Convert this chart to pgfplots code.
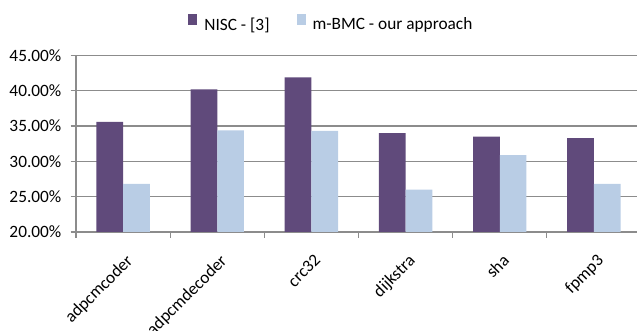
\documentclass[border=0pt]{standalone}
\usepackage{pgfplots}
\pgfplotsset{compat=1.18}
\usepackage{fontspec}
\setmainfont{Carlito}
\definecolor{nisc}{HTML}{604A7B}
\definecolor{mbmc}{HTML}{B9CDE5}
\definecolor{gridc}{HTML}{8C8C8C}
\begin{document}
\begin{tikzpicture}[font=\fontsize{17.3bp}{20bp}\selectfont]
\begin{axis}[
 at={(76bp,99bp)}, anchor=south west, scale only axis,
 width=565bp, height=176.6bp,
 ybar=0pt, bar width=26.7bp,
 xmin=-0.5, xmax=5.5, ymin=20, ymax=45,
 xtick={-0.5,0.5,1.5,2.5,3.5,4.5,5.5}, xticklabels={{},{},{},{},{},{},{}},
 extra x ticks={0,1,2,3,4,5},
 extra x tick labels={adpcmcoder,adpcmdecoder,crc32,dijkstra,sha,fpmp3},
 extra x tick style={major tick length=0pt,
   xticklabel style={xshift=2bp, yshift=-21bp, rotate=45, anchor=north east, inner sep=0pt}},
 ytick={20,25,...,45},
 yticklabel={\pgfmathprintnumber[fixed,fixed zerofill,precision=2]{\tick}\%},
 yticklabel style={inner sep=0pt, xshift=-9bp},
 /pgf/number format/assume math mode=true,
 axis lines*=left,
 axis line style={gridc, line width=1.2bp},
 tick style={gridc, line width=1.2bp},
 major tick length=5.5bp,
 tick align=outside,
 ymajorgrids, grid style={gridc, line width=1.2bp},
 legend style={at={(0.452,1.178)}, anchor=center, draw=none, fill=none,
   legend columns=2, inner sep=0pt,
   /tikz/every odd column/.append style={column sep=5bp},
   /tikz/every even column/.append style={column sep=25bp}},
 legend cell align=left,
 legend image code/.code={\fill[#1] (0bp,-0.5bp) rectangle (9bp,10.5bp);},
]
\addplot[draw=none, fill=nisc] coordinates {(0,35.6) (1,40.2) (2,41.9) (3,34.0) (4,33.5) (5,33.3)};
\addplot[draw=none, fill=mbmc] coordinates {(0,26.8) (1,34.4) (2,34.3) (3,26.0) (4,30.9) (5,26.8)};
\legend{NISC - [3], m-BMC - our approach}
\end{axis}
\pgfresetboundingbox
\useasboundingbox (0,0) rectangle (637bp,331bp);
\end{tikzpicture}
\end{document}
